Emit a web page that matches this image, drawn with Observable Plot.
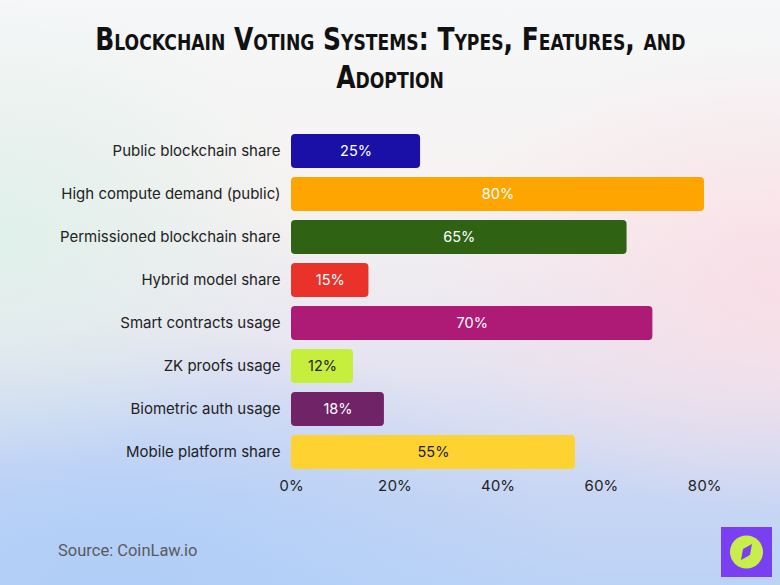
<!DOCTYPE html>
<html>
<head>
<meta charset="utf-8">
<script src="https://cdn.jsdelivr.net/npm/d3@7"></script>
<script src="https://cdn.jsdelivr.net/npm/@observablehq/plot@0.6"></script>
<style>
  html, body { margin: 0; padding: 0; }
  #page {
    position: relative; width: 780px; height: 585px; overflow: hidden;
    background:
      radial-gradient(ellipse 45% 40% at 100% 48%, rgba(250,222,230,0.95), rgba(250,222,230,0) 100%),
      radial-gradient(ellipse 40% 40% at 0% 40%, rgba(222,240,234,0.95), rgba(222,240,234,0) 100%),
      radial-gradient(ellipse 60% 45% at 15% 100%, rgba(176,206,248,1), rgba(176,206,248,0) 100%),
      linear-gradient(to bottom, #f5f7f8 0%, #f6f2f1 35%, #e6e4f1 62%, #c8d6f4 85%, #bcd3f6 100%);
    font-family: Inter, "Noto Sans", sans-serif;
  }
  #title {
    position: absolute; left: -310px; top: 20px; width: 1400px; text-align: center;
    font-family: "DejaVu Sans", sans-serif;
    font-weight: bold; font-variant: small-caps; font-size: 32px; line-height: 38px;
    color: #111;
  }
  #title span { display: inline-block; transform: scaleX(0.78); transform-origin: center; white-space: nowrap; }
  #chart { position: absolute; left: 0; top: 0; }
  #source {
    position: absolute; left: 58px; top: 541px; font-family: Roboto, sans-serif;
    font-size: 16.5px; color: #5a5a5a;
  }
  #logo { position: absolute; left: 721px; top: 527px; }
</style>
</head>
<body>
<div id="page">
  <div id="chart"></div>
  <div id="title"><span>Blockchain Voting Systems: Types, Features, and</span><br><span>Adoption</span></div>
  <div id="source">Source: CoinLaw.io</div>
  <svg id="logo" width="51" height="50" viewBox="0 0 51 50">
    <rect width="51" height="50" fill="#7b3ff2"/>
    <circle cx="25.5" cy="25" r="16.5" fill="#c9ee4c"/>
    <path d="M31 17 L29 28 L20 33 L22 22 Z" fill="#7b3ff2"/>
  </svg>
</div>
<script>
const categories = [
  "Public blockchain share",
  "High compute demand (public)",
  "Permissioned blockchain share",
  "Hybrid model share",
  "Smart contracts usage",
  "ZK proofs usage",
  "Biometric auth usage",
  "Mobile platform share"
];
const values = [25, 80, 65, 15, 70, 12, 18, 55];
const colors = ["#1a0fa6", "#ffa502", "#2f6313", "#e8322a", "#ad1b76", "#c6ee3c", "#702467", "#fdd231"];
const labelColors = ["#fff", "#fff", "#fff", "#fff", "#fff", "#222", "#fff", "#222"];
const xTicks = [0, 20, 40, 60, 80];

const data = categories.map((c, i) => ({category: c, value: values[i], color: colors[i], label: labelColors[i]}));

const chart = Plot.plot({
  width: 780,
  height: 500,
  marginLeft: 291,
  marginRight: 76,
  marginTop: 124,
  marginBottom: 20,
  style: {background: "transparent", fontFamily: "Inter, 'Noto Sans', sans-serif", fontSize: "15px", color: "#222"},
  x: {domain: [0, 80], ticks: xTicks, tickFormat: d => d + "%", label: null},
  y: {domain: categories, padding: 0.2, label: null},
  marks: [
    Plot.barX(data, {y: "category", x: "value", fill: "color", rx: 4}),
    Plot.text(data, {y: "category", x: d => d.value / 2, text: d => d.value + "%", fill: "label", fontSize: 14.5}),
    Plot.axisX({ticks: xTicks, tickFormat: d => d + "%", tickSize: 0, tickPadding: 0, fontSize: 15, label: null, color: "#222"}),
    Plot.axisY({tickSize: 0, tickPadding: 11, fontSize: 15, label: null, color: "#222"})
  ]
});
document.getElementById("chart").appendChild(chart);
</script>
</body>
</html>
